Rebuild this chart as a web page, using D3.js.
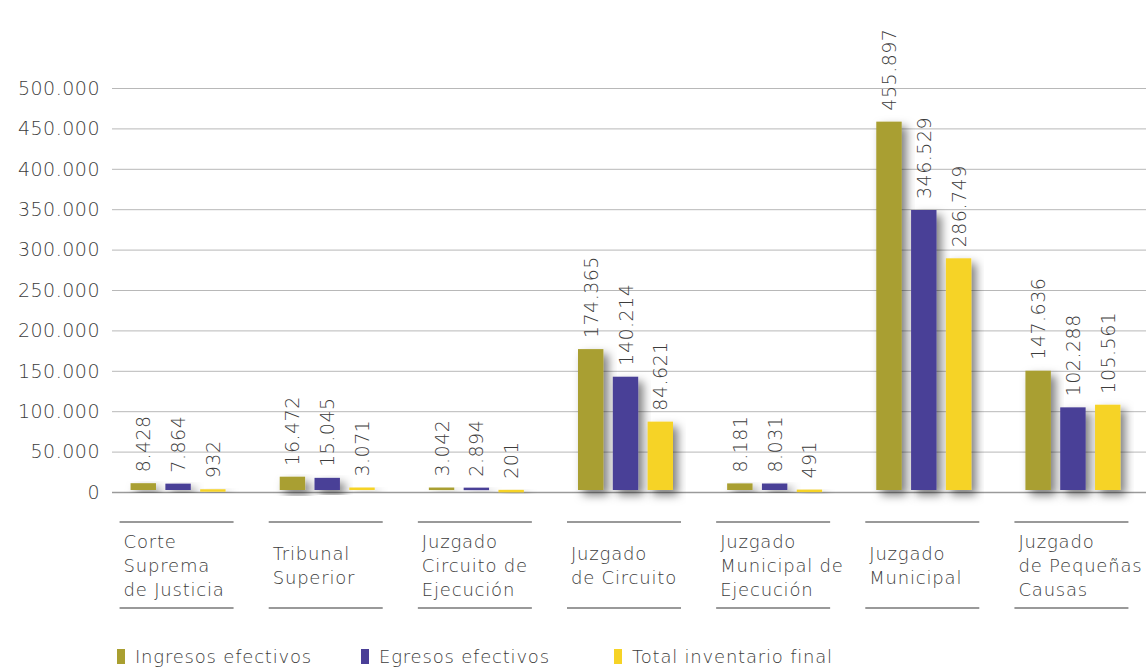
<!DOCTYPE html>
<html>
<head>
<meta charset="utf-8">
<script src="https://cdn.jsdelivr.net/npm/d3@7"></script>
<style>
  body { margin: 0; background: #fff; }
  text { font-family: "DejaVu Sans", sans-serif; font-weight: 200; fill: #3c3c3c; }
  text.num { letter-spacing: 0.5px; }
  text.lbl { letter-spacing: 0.8px; }
</style>
</head>
<body>
<script>
// Data
var categories = [
    ["Corte", "Suprema", "de Justicia"],
    ["Tribunal", "Superior"],
    ["Juzgado", "Circuito de", "Ejecución"],
    ["Juzgado", "de Circuito"],
    ["Juzgado", "Municipal de", "Ejecución"],
    ["Juzgado", "Municipal"],
    ["Juzgado", "de Pequeñas", "Causas"]
];
var seriesNames = ["Ingresos efectivos", "Egresos efectivos", "Total inventario final"];
var ingresos = [8428, 16472, 3042, 174365, 8181, 455897, 147636];
var egresos = [7864, 15045, 2894, 140214, 8031, 346529, 102288];
var inventario = [932, 3071, 201, 84621, 491, 286749, 105561];
var yTicks = [0, 50000, 100000, 150000, 200000, 250000, 300000, 350000, 400000, 450000, 500000];
var colors = ["#a99f30", "#4a3f97", "#f6d326"];

var width = 1146, height = 667;
var fmt = function(v) { return d3.format(",")(v).replace(/,/g, "."); };

var svg = d3.select("body").append("svg").attr("width", width).attr("height", height);

// shadow filter
var defs = svg.append("defs");
var f = defs.append("filter").attr("id", "shadow")
    .attr("x", "-50%").attr("y", "-20%").attr("width", "200%").attr("height", "160%");
f.append("feDropShadow").attr("dx", 5).attr("dy", 5).attr("stdDeviation", 5)
    .attr("flood-color", "#000").attr("flood-opacity", 0.5);

var x = d3.scaleBand().domain(d3.range(categories.length)).range([102, 1146]);
var xInner = d3.scaleBand().domain([0, 1, 2]).range([-46, 49]).paddingInner(0.27);
var y = d3.scaleLinear().domain([0, 500000]).range([492, 88]);

// grid
var grid = svg.append("g");
grid.selectAll("line").data(yTicks).enter().append("line")
    .attr("x1", 112).attr("x2", width)
    .attr("y1", function(d) { return y(d) + 0.5; })
    .attr("y2", function(d) { return y(d) + 0.5; })
    .attr("stroke", function(d) { return d === 0 ? "#9a9a9a" : "#b8b8b8"; })
    .attr("stroke-width", function(d) { return d === 0 ? 1.6 : 1; });

grid.selectAll("text").data(yTicks).enter().append("text")
    .attr("class", "num")
    .attr("x", 100).attr("y", function(d) { return y(d); })
    .attr("dy", "0.36em")
    .attr("text-anchor", "end")
    .attr("font-size", "19px")
    .text(fmt);

// bars
var series = [ingresos, egresos, inventario];
var groups = svg.selectAll("g.grp").data(categories).enter().append("g")
    .attr("class", "grp")
    .attr("transform", function(d, i) { return "translate(" + (x(i) + x.bandwidth() / 2) + ",0)"; });

groups.each(function(cat, i) {
    var g = d3.select(this);
    var vals = series.map(function(s) { return s[i]; });
    g.selectAll("rect").data(vals).enter().append("rect")
        .attr("x", function(d, j) { return xInner(j); })
        .attr("width", xInner.bandwidth())
        .attr("y", function(d) { return y(d) - 2; })
        .attr("height", function(d) { return Math.max(2.5, y(0) - y(d)); })
        .attr("fill", function(d, j) { return colors[j]; })
        .attr("filter", "url(#shadow)");

    g.selectAll("text.val").data(vals).enter().append("text")
        .attr("class", "val num")
        .attr("font-size", "19px")
        .attr("transform", function(d, j) {
            return "translate(" + (xInner(j) + xInner.bandwidth() / 2 + 7) + "," + (y(d) - 13) + ") rotate(-90)";
        })
        .text(fmt);

    // underlines
    g.append("line").attr("x1", -57).attr("x2", 57).attr("y1", 522).attr("y2", 522)
        .attr("stroke", "#999").attr("stroke-width", 2);
    g.append("line").attr("x1", -57).attr("x2", 57).attr("y1", 608).attr("y2", 608)
        .attr("stroke", "#999").attr("stroke-width", 2);

    var lines = cat;
    var top = lines.length === 3 ? 542 : 554;
    g.selectAll("text.cat").data(lines).enter().append("text")
        .attr("class", "cat lbl")
        .attr("x", -53)
        .attr("y", function(d, k) { return top + k * 24; })
        .attr("dy", "0.36em")
        .attr("font-size", "18px")
        .text(function(d) { return d; });
});

// legend
var legendX = [117, 361, 614];
var legend = svg.selectAll("g.leg").data(seriesNames).enter().append("g")
    .attr("class", "leg")
    .attr("transform", function(d, i) { return "translate(" + legendX[i] + ",657)"; });
legend.append("rect").attr("x", 0).attr("y", -8).attr("width", 8).attr("height", 15)
    .attr("fill", function(d, i) { return colors[i]; });
legend.append("text").attr("class", "lbl").attr("x", 18).attr("dy", "0.36em").attr("font-size", "18px")
    .text(function(d) { return d; });
</script>
</body>
</html>
